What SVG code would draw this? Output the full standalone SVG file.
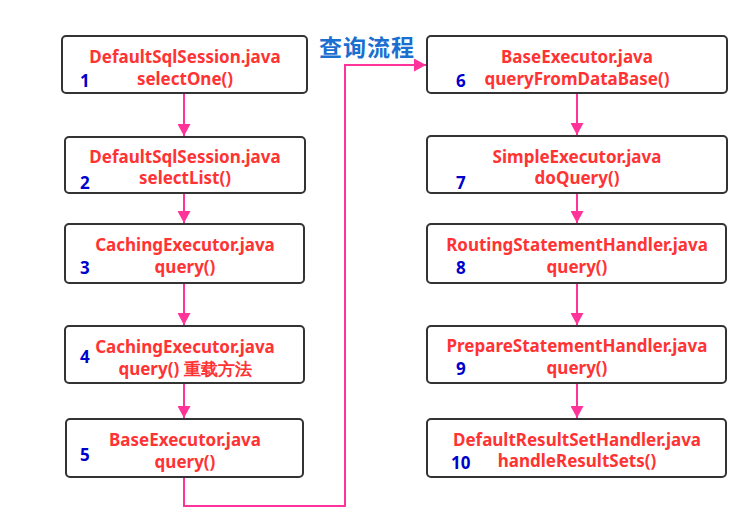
<svg xmlns="http://www.w3.org/2000/svg" width="752" height="532" viewBox="0 0 752 532">
<style>
.box{fill:#fff;stroke:#333;stroke-width:2}
.t{font-family:"Noto Sans","Liberation Sans",sans-serif;font-weight:bold;font-size:17px;fill:#ff3333;text-anchor:middle}
.n{font-family:"Noto Sans","Liberation Sans",sans-serif;font-weight:bold;font-size:17px;fill:#0000cc}
.c{fill:none;stroke:#ff3399;stroke-width:2}
.title{font-family:"Noto Sans CJK SC",sans-serif;font-weight:bold;font-size:23px;letter-spacing:1px;fill:#1a6fd0}
</style>
<defs>
<marker id="ah" viewBox="0 0 12 13" refX="12" refY="6.5" markerWidth="12" markerHeight="13" markerUnits="userSpaceOnUse" orient="auto">
<path d="M0,0 L12,6.5 L0,13 Z" fill="#ff3399"/>
</marker>
</defs>
<rect width="752" height="532" fill="#fff"/>
<text class="title" x="319" y="56">查询流程</text>
<g id="connectors">
<line class="c" x1="184" y1="93" x2="184" y2="136" marker-end="url(#ah)"/>
<line class="c" x1="184" y1="193" x2="184" y2="223" marker-end="url(#ah)"/>
<line class="c" x1="184" y1="283" x2="184" y2="325" marker-end="url(#ah)"/>
<line class="c" x1="184" y1="383" x2="184" y2="418" marker-end="url(#ah)"/>
<polyline class="c" points="184,477 184,506 345,506 345,65 426,65" marker-end="url(#ah)"/>
<line class="c" x1="577" y1="93" x2="577" y2="135" marker-end="url(#ah)"/>
<line class="c" x1="577" y1="193" x2="577" y2="223" marker-end="url(#ah)"/>
<line class="c" x1="577" y1="283" x2="577" y2="325" marker-end="url(#ah)"/>
<line class="c" x1="577" y1="383" x2="577" y2="418" marker-end="url(#ah)"/>
</g>
<g id="node1"><rect class="box" x="62" y="36" width="245" height="57" rx="4"/><text class="t" x="185" y="63">DefaultSqlSession.java</text><text class="t" x="185" y="85">selectOne()</text><text class="n" x="80" y="87">1</text></g>
<g id="node2"><rect class="box" x="65" y="137" width="240" height="56" rx="4"/><text class="t" x="185" y="163">DefaultSqlSession.java</text><text class="t" x="185" y="184">selectList()</text><text class="n" x="80" y="189">2</text></g>
<g id="node3"><rect class="box" x="65" y="224" width="239" height="59" rx="4"/><text class="t" x="185" y="251">CachingExecutor.java</text><text class="t" x="185" y="273">query()</text><text class="n" x="80" y="274">3</text></g>
<g id="node4"><rect class="box" x="65" y="326" width="239" height="57" rx="4"/><text class="t" x="185" y="353">CachingExecutor.java</text><text class="t" x="185" y="375">query() 重载方法</text><text class="n" x="80" y="363">4</text></g>
<g id="node5"><rect class="box" x="66" y="419" width="237" height="58" rx="4"/><text class="t" x="185" y="446">BaseExecutor.java</text><text class="t" x="185" y="468">query()</text><text class="n" x="80" y="461">5</text></g>
<g id="node6"><rect class="box" x="427" y="36" width="300" height="57" rx="4"/><text class="t" x="577" y="63">BaseExecutor.java</text><text class="t" x="577" y="85">queryFromDataBase()</text><text class="n" x="456" y="87">6</text></g>
<g id="node7"><rect class="box" x="427" y="136" width="300" height="57" rx="4"/><text class="t" x="577" y="163">SimpleExecutor.java</text><text class="t" x="577" y="184">doQuery()</text><text class="n" x="456" y="189">7</text></g>
<g id="node8"><rect class="box" x="427" y="224" width="299" height="59" rx="4"/><text class="t" x="577" y="251">RoutingStatementHandler.java</text><text class="t" x="577" y="273">query()</text><text class="n" x="456" y="274">8</text></g>
<g id="node9"><rect class="box" x="427" y="326" width="299" height="57" rx="4"/><text class="t" x="577" y="352">PrepareStatementHandler.java</text><text class="t" x="577" y="374">query()</text><text class="n" x="456" y="375">9</text></g>
<g id="node10"><rect class="box" x="427" y="419" width="299" height="58" rx="4"/><text class="t" x="577" y="446">DefaultResultSetHandler.java</text><text class="t" x="577" y="467">handleResultSets()</text><text class="n" x="451" y="469">10</text></g>
</svg>
